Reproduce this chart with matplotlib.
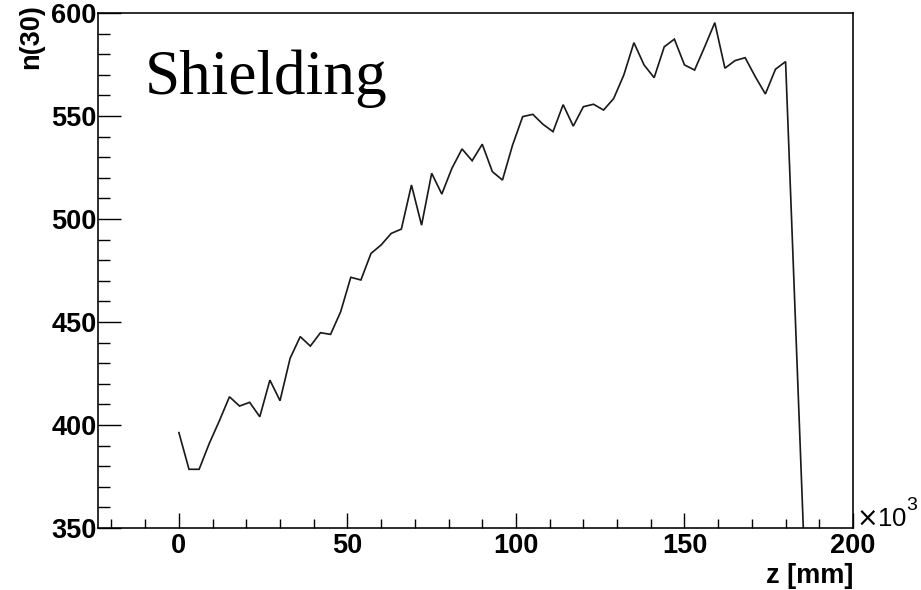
import numpy as np
import matplotlib
matplotlib.use("Agg")
import matplotlib.pyplot as plt
from matplotlib.ticker import MultipleLocator

# z positions (in units of 10^3 mm) and counts n(30)
z = [0, 3, 6, 9, 12, 15, 18, 21, 24, 27, 30, 33, 36, 39, 42, 45, 48, 51, 54, 57,
     60, 63, 66, 69, 72, 75, 78, 81, 84, 87, 90, 93, 96, 99, 102, 105, 108, 111,
     114, 117, 120, 123, 126, 129, 132, 135, 138, 141, 144, 147, 150, 153, 156,
     159, 162, 165, 168, 171, 174, 177, 180, 186]
n30 = [396.3, 378.5, 378.5, 391.0, 402.0, 413.7, 409.2, 411.0, 404.0, 421.8,
       411.8, 432.4, 442.9, 438.3, 444.8, 444.0, 455.0, 471.7, 470.4, 483.3,
       487.4, 493.0, 495.1, 516.5, 497.0, 522.2, 512.1, 524.6, 534.0, 528.3,
       536.3, 523.0, 518.9, 535.9, 549.7, 550.8, 546.0, 542.4, 555.5, 545.1,
       554.5, 555.7, 552.9, 558.5, 569.9, 585.6, 574.8, 568.6, 583.6, 587.3,
       574.8, 572.3, 583.6, 595.3, 573.2, 576.9, 578.3, 569.1, 560.7, 572.7,
       576.4, 318.0]

x_major = [0, 50, 100, 150, 200]
y_major = [350, 400, 450, 500, 550, 600]

W, H, DPI = 921, 590, 100
PT = 72 / DPI  # points per pixel
fig = plt.figure(figsize=(W / DPI, H / DPI), dpi=DPI)
ax = fig.add_axes([98 / W, 1 - 528 / H, (853 - 98) / W, (528 - 13) / H])

ax.plot(z, n30, color="#1a1a1a", lw=1.7 * PT, solid_joinstyle="miter")
ax.set_xlim(-24, 200)
ax.set_ylim(350, 600)

ax.set_xticks(x_major)
ax.set_yticks(y_major)
ax.xaxis.set_minor_locator(MultipleLocator(10))
ax.yaxis.set_minor_locator(MultipleLocator(10))

tick_font = dict(family="Liberation Sans", weight="bold", size=19.5)
ax.set_xticklabels([str(v) for v in x_major], **tick_font)
ax.set_yticklabels([str(v) for v in y_major], **tick_font)

tw = 1.4 * PT
ax.tick_params(axis="x", which="major", direction="in", length=15 * PT, width=tw,
               pad=5 * PT, top=False)
ax.tick_params(axis="x", which="minor", direction="in", length=9 * PT, width=tw,
               top=False)
ax.tick_params(axis="y", which="major", direction="in", length=23 * PT, width=tw,
               pad=1.5 * PT, right=False)
ax.tick_params(axis="y", which="minor", direction="in", length=12 * PT, width=tw,
               right=False)
for s in ax.spines.values():
    s.set_linewidth(1.6 * PT)

label_font = dict(family="Liberation Sans", weight="bold", size=19.5)
fig.text(853 / W, 1 - 576 / H, "z [mm]", ha="right", va="center", **label_font)
fig.text(31 / W, 1 - 4 / H, "n(30)", ha="center", va="top", rotation=90,
         **label_font)

# axis multiplier next to the x-axis end
fig.text(856 / W, 1 - 526 / H, r"$\times$10", ha="left", va="baseline",
         family="Liberation Sans", size=18.5)
fig.text(906 / W, 1 - 510 / H, "3", ha="left", va="baseline",
         family="Liberation Sans", size=14)

ax.text(145 / W, 1 - 94 / H, "Shielding", transform=fig.transFigure,
        family="Liberation Serif", size=45.5, ha="left", va="baseline")

fig.savefig("out.png", dpi=DPI)
